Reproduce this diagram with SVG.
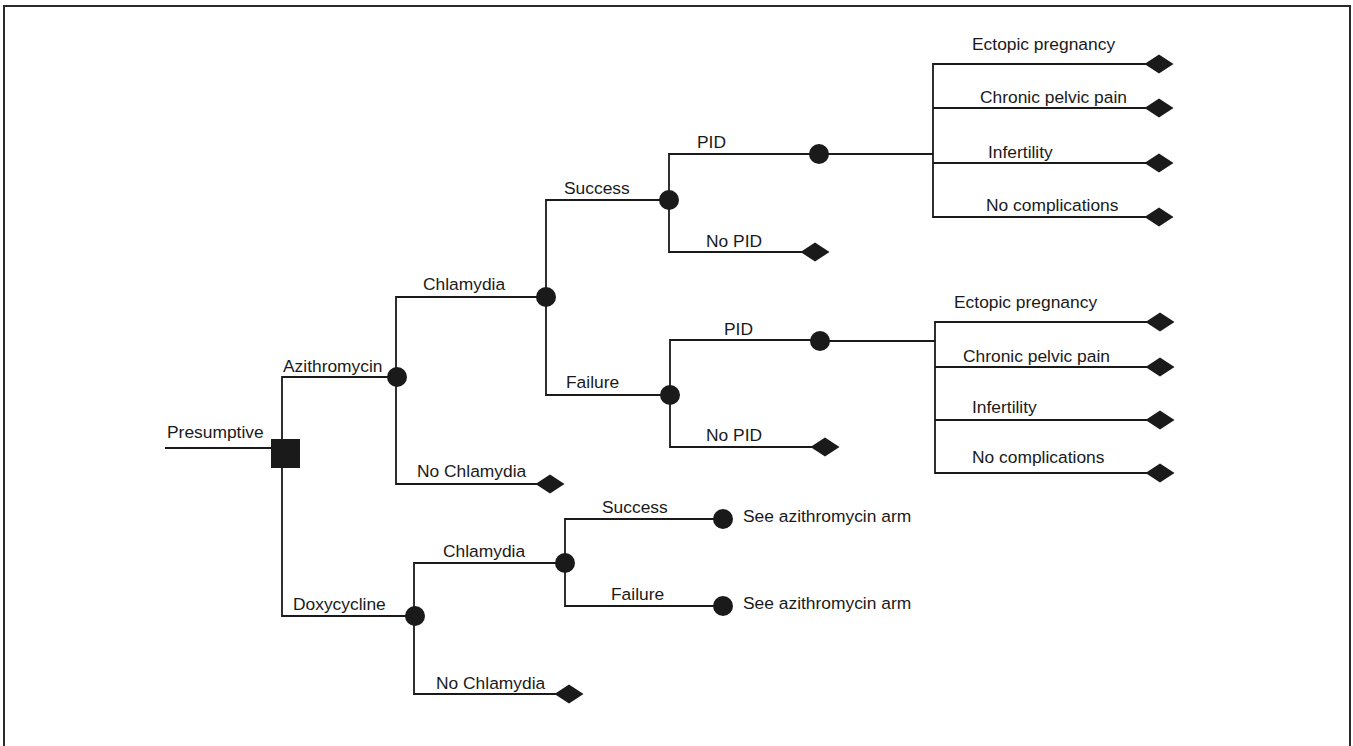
<svg xmlns="http://www.w3.org/2000/svg" width="1353" height="746" viewBox="0 0 1353 746">
<style>
.ln{fill:none;stroke:#1a1a1a;stroke-width:1.8}
.fr{fill:none;stroke:#2a2a2a;stroke-width:2}
.nd{fill:#1a1a1a}
text{font-family:"Liberation Sans",Arial,sans-serif;font-size:17.4px;fill:#1a1a1a}
</style>
<defs>
<circle id="ch" r="10" class="nd"/>
<polygon id="tm" points="-14.5,0 0,-9.5 14.5,0 0,9.5" class="nd"/>
</defs>
<rect width="1353" height="746" fill="#fff"/>
<path class="fr" d="M4 750 V6 H1350 V750"/>
<g id="connectors">
<path class="ln" d="M165 448 H272"/>
<path class="ln" d="M282 448 V377 H397"/>
<path class="ln" d="M282 460 V616 H415"/>
<path class="ln" d="M396 377 V297 H546"/>
<path class="ln" d="M396 377 V484 H550"/>
<path class="ln" d="M546 297 V200 H669"/>
<path class="ln" d="M546 297 V395 H670"/>
<path class="ln" d="M669 200 V154 H819"/>
<path class="ln" d="M669 200 V252 H815"/>
<path class="ln" d="M819 154 H933"/>
<path class="ln" d="M1159 64 H933 V217 H1159"/>
<path class="ln" d="M933 108 H1159 M933 163 H1159"/>
<path class="ln" d="M670 395 V340 H820"/>
<path class="ln" d="M670 395 V447 H825"/>
<path class="ln" d="M820 341 H935"/>
<path class="ln" d="M1160 322 H935 V473 H1160"/>
<path class="ln" d="M935 367 H1160 M935 420 H1160"/>
<path class="ln" d="M414 616 V563 H565"/>
<path class="ln" d="M414 616 V694 H569"/>
<path class="ln" d="M565 563 V519 H723"/>
<path class="ln" d="M565 563 V606 H723"/>
</g>
<g id="n_presumptive"><rect x="271" y="439" width="29" height="29" class="nd"/><text x="167" y="438">Presumptive</text></g>
<g id="n_azithromycin"><use href="#ch" x="397" y="377"/><text x="283" y="372">Azithromycin</text></g>
<g id="n_azi_chlamydia"><use href="#ch" x="546" y="297"/><text x="423" y="290">Chlamydia</text></g>
<g id="n_azi_nochlamydia"><use href="#tm" x="550" y="484"/><text x="417" y="477">No Chlamydia</text></g>
<g id="n_success"><use href="#ch" x="669" y="200"/><text x="564" y="194">Success</text></g>
<g id="n_failure"><use href="#ch" x="670" y="395"/><text x="566" y="388">Failure</text></g>
<g id="n_pid1"><use href="#ch" x="819" y="154"/><text x="697" y="148">PID</text></g>
<g id="n_nopid1"><use href="#tm" x="815" y="252"/><text x="706" y="247">No PID</text></g>
<g id="n_pid2"><use href="#ch" x="820" y="341"/><text x="724" y="335">PID</text></g>
<g id="n_nopid2"><use href="#tm" x="825" y="447"/><text x="706" y="441">No PID</text></g>
<g id="n_ectopic1"><use href="#tm" x="1159" y="64"/><text x="972" y="50">Ectopic pregnancy</text></g>
<g id="n_chronic1"><use href="#tm" x="1159" y="108"/><text x="980" y="103">Chronic pelvic pain</text></g>
<g id="n_infert1"><use href="#tm" x="1159" y="163"/><text x="988" y="158">Infertility</text></g>
<g id="n_nocomp1"><use href="#tm" x="1159" y="217"/><text x="986" y="211">No complications</text></g>
<g id="n_ectopic2"><use href="#tm" x="1160" y="322"/><text x="954" y="308">Ectopic pregnancy</text></g>
<g id="n_chronic2"><use href="#tm" x="1160" y="367"/><text x="963" y="362">Chronic pelvic pain</text></g>
<g id="n_infert2"><use href="#tm" x="1160" y="420"/><text x="972" y="413">Infertility</text></g>
<g id="n_nocomp2"><use href="#tm" x="1160" y="473"/><text x="972" y="463">No complications</text></g>
<g id="n_doxycycline"><use href="#ch" x="415" y="616"/><text x="293" y="610">Doxycycline</text></g>
<g id="n_doxy_chlamydia"><use href="#ch" x="565" y="563"/><text x="443" y="557">Chlamydia</text></g>
<g id="n_doxy_nochlamydia"><use href="#tm" x="569" y="694"/><text x="436" y="689">No Chlamydia</text></g>
<g id="n_doxy_success"><use href="#ch" x="723" y="519"/><text x="602" y="513">Success</text><text x="743" y="522">See azithromycin arm</text></g>
<g id="n_doxy_failure"><use href="#ch" x="723" y="606"/><text x="611" y="600">Failure</text><text x="743" y="609">See azithromycin arm</text></g>
</svg>
